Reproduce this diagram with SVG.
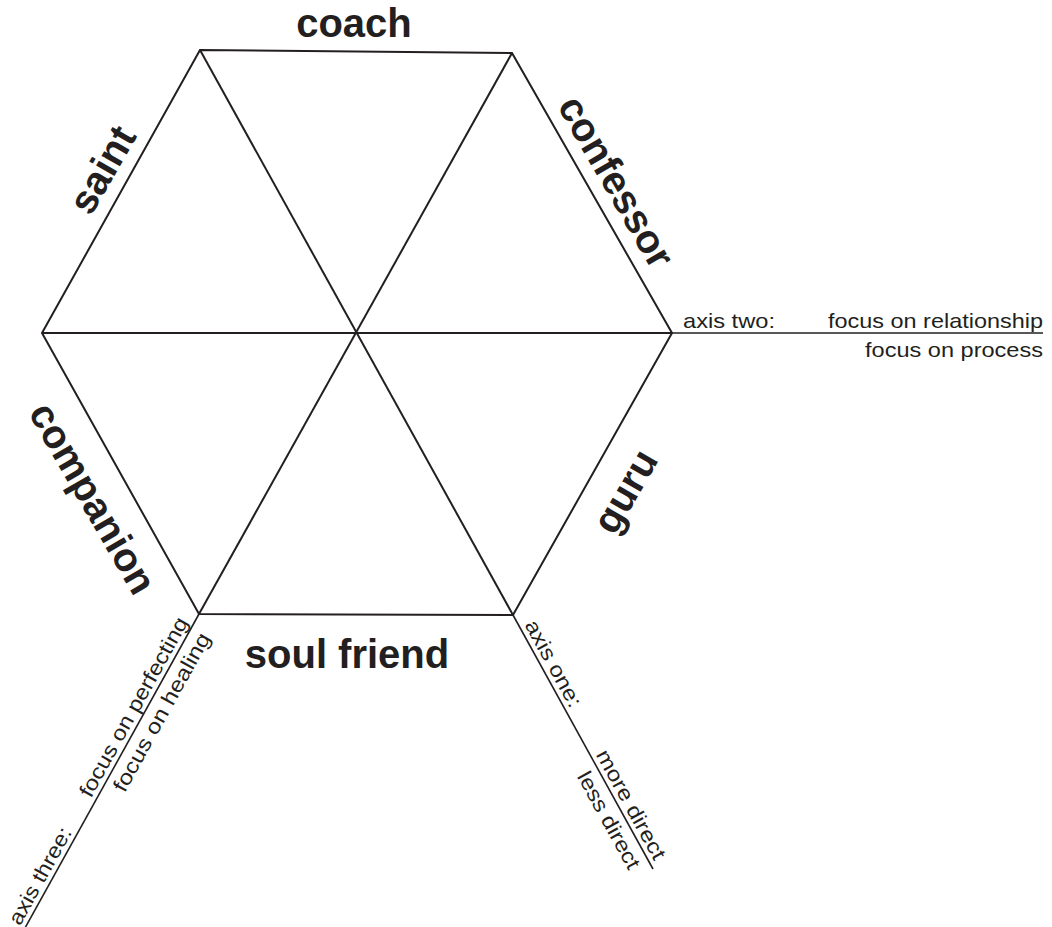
<svg xmlns="http://www.w3.org/2000/svg" width="1052" height="927" viewBox="0 0 1052 927">
<style>
.ln{stroke:#231f20;stroke-width:2;fill:none;stroke-linejoin:miter}
.ax{stroke:#231f20;stroke-width:1.6;fill:none}
.big{font-family:"Liberation Sans",Arial,sans-serif;font-weight:bold;font-size:40px;fill:#231f20;text-anchor:middle}
.sm{font-family:"Liberation Sans",Arial,sans-serif;font-size:21px;fill:#231f20}
.e{text-anchor:end}
</style>
<rect width="1052" height="927" fill="#fff"/>
<g id="connectors">
<polygon class="ln" points="200,50 512,53 672,333 513,615 199,614 42,333"/>
<line class="ln" x1="200" y1="50" x2="513" y2="615"/>
<line class="ln" x1="512" y1="53" x2="199" y2="614"/>
<line class="ln" x1="42" y1="333" x2="672" y2="333"/>
<line class="ax" x1="672" y1="333" x2="1043" y2="333"/>
<line class="ax" x1="513" y1="615" x2="653" y2="869"/>
<line class="ax" x1="199" y1="614" x2="25" y2="928"/>
</g>
<g id="coach"><text class="big" x="354" y="37">coach</text></g>
<g id="saint"><text class="big" transform="translate(114,176.5) rotate(-60)">saint</text></g>
<g id="confessor"><text class="big" transform="translate(604.5,188.5) rotate(60)">confessor</text></g>
<g id="companion"><text class="big" transform="translate(81,505) rotate(60)">companion</text></g>
<g id="guru"><text class="big" transform="translate(637,498) rotate(-60)">guru</text></g>
<g id="soul-friend"><text class="big" x="347" y="668">soul friend</text></g>
<g id="axis-two">
<text class="sm" x="683" y="328" textLength="92" lengthAdjust="spacingAndGlyphs">axis two:</text>
<text class="sm e" x="1043" y="328" textLength="215" lengthAdjust="spacingAndGlyphs">focus on relationship</text>
<text class="sm e" x="1043" y="357" textLength="178" lengthAdjust="spacingAndGlyphs">focus on process</text>
</g>
<g id="axis-one" transform="translate(513,615) rotate(61.2)">
<text class="sm" x="14" y="-5" textLength="96" lengthAdjust="spacingAndGlyphs">axis one:</text>
<text class="sm e" x="284" y="-5" textLength="122" lengthAdjust="spacingAndGlyphs">more direct</text>
<text class="sm e" x="280" y="22" textLength="108" lengthAdjust="spacingAndGlyphs">less direct</text>
</g>
<g id="axis-three" transform="translate(199,614) rotate(-61)">
<text class="sm" x="-360" y="-5" textLength="108" lengthAdjust="spacingAndGlyphs">axis three:</text>
<text class="sm e" x="-12" y="-5" textLength="202" lengthAdjust="spacingAndGlyphs">focus on perfecting</text>
<text class="sm e" x="-15" y="22" textLength="178" lengthAdjust="spacingAndGlyphs">focus on healing</text>
</g>
</svg>
